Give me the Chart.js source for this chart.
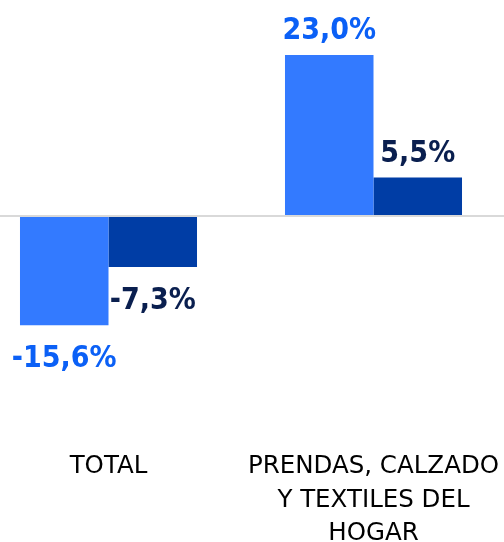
<!DOCTYPE html>
<html>
<head>
<meta charset="utf-8">
<script src="https://cdn.jsdelivr.net/npm/chart.js@4/dist/chart.umd.min.js"></script>
<style>
  html, body { margin: 0; padding: 0; background: #fff; overflow: hidden; width: 504px; height: 542px; position: relative; }
  /* il grafico e' piu' largo della finestra: la prima categoria parte fuori a sinistra */
  #wrap { position: absolute; left: -24px; top: 0; width: 530px; height: 542px; }
</style>
</head>
<body>
<div id="wrap"><canvas id="myChart"></canvas></div>
<script>
const categories = ['TOTAL', ['PRENDAS, CALZADO', 'Y TEXTILES DEL', 'HOGAR']];
const serieA = [-15.6, 23.0];
const serieB = [-7.3, 5.5];

const barColors = ['#337AFF', '#003DA5'];
const labelColors = ['#0B60F6', '#0A1F4F'];

// etichette dei valori sopra / sotto le barre
const valueLabels = {
    id: 'valueLabels',
    afterDatasetsDraw(chart) {
        const ctx = chart.ctx;
        ctx.save();
        ctx.font = 'bold 30px "DejaVu Sans Condensed", "DejaVu Sans"';
        ctx.textAlign = 'center';
        ctx.textBaseline = 'alphabetic';
        chart.data.datasets.forEach((dataset, i) => {
            const meta = chart.getDatasetMeta(i);
            meta.data.forEach((bar, j) => {
                const v = dataset.data[j];
                const txt = v.toFixed(1).replace('.', ',') + '%';
                ctx.fillStyle = labelColors[i];
                const y = v >= 0 ? bar.y - 16 : bar.y + 42;
                ctx.fillText(txt, bar.x, y);
            });
        });
        ctx.restore();
    }
};

function createChart() {
    const ctx = document.getElementById('myChart').getContext('2d');
    new Chart(ctx, {
        type: 'bar',
        data: {
            labels: categories,
            datasets: [
                {
                    label: 'A',
                    data: serieA,
                    backgroundColor: barColors[0],
                },
                {
                    label: 'B',
                    data: serieB,
                    backgroundColor: barColors[1],
                }
            ]
        },
        options: {
            responsive: true,
            maintainAspectRatio: false,
            animation: false,
            layout: {
                padding: { left: 0, right: 0, top: 6, bottom: 0 }
            },
            datasets: {
                bar: {
                    categoryPercentage: 0.668,
                    barPercentage: 1,
                }
            },
            scales: {
                x: {
                    afterFit: (axis) => { axis.height = 95; },
                    grid: { display: false, drawTicks: false },
                    border: { display: false },
                    ticks: {
                        padding: 3,
                        maxRotation: 0,
                        autoSkip: false,
                        color: '#000',
                        font: { family: '"DejaVu Sans"', size: 24.5, lineHeight: 1.37 }
                    }
                },
                y: {
                    min: -33,
                    max: 30,
                    afterBuildTicks: (axis) => { axis.ticks = [{ value: 0 }]; },
                    ticks: { display: false },
                    border: { display: false },
                    grid: {
                        drawTicks: false,
                        color: '#D9D9D9',
                        lineWidth: 2,
                    }
                }
            },
            plugins: {
                legend: { display: false },
                tooltip: { enabled: false }
            }
        },
        plugins: [valueLabels]
    });
}

window.onload = function () {
    createChart();
}
</script>
</body>
</html>
